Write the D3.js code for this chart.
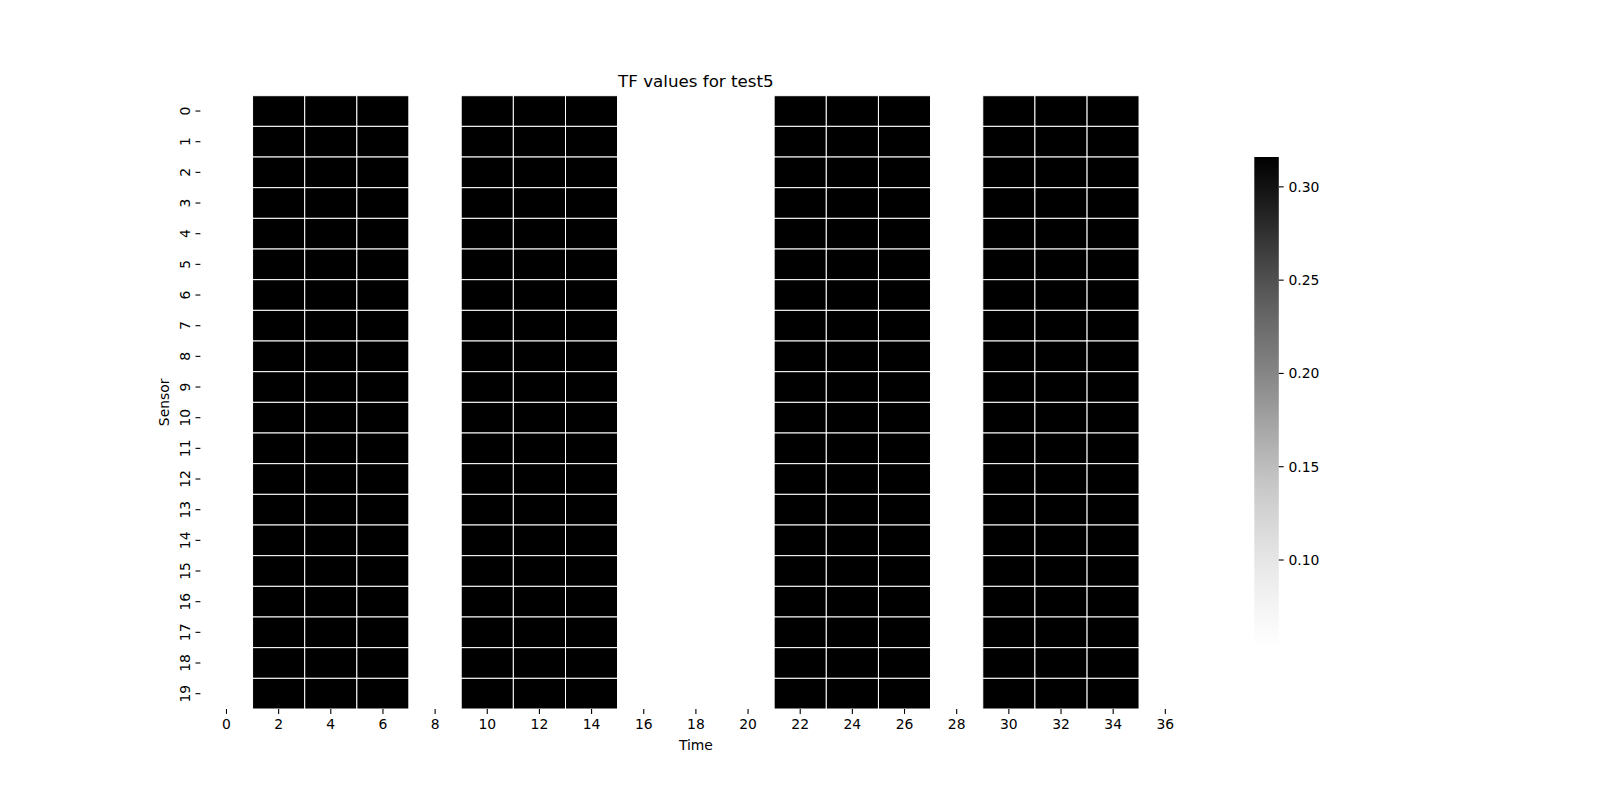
<!DOCTYPE html>
<html><head><meta charset="utf-8">
<script src="https://cdn.jsdelivr.net/npm/d3@7"></script>
<style>body{margin:0;background:#fff;} text{font-family:"DejaVu Sans",sans-serif;fill:#000;}</style>
</head><body>
<svg id="chart" width="1600" height="797"></svg>
<script>
// ---- data ----
const title = "TF values for test5";
const sensors = d3.range(0, 20);                 // rows 0..19
const times = [0,2,4,6,8,10,12,14,16,18,20,22,24,26,28,30,32,34,36];
// value per time column (same for every sensor)
const H = 0.316, L = 0.053;
const rowValues = [L,H,H,H,L,H,H,H,L,L,L,H,H,H,L,H,H,H,L];
const values = sensors.map(() => rowValues.slice());
const xTicks = [0,2,4,6,8,10,12,14,16,18,20,22,24,26,28,30,32,34,36];
const cbarTicks = [0.10,0.15,0.20,0.25,0.30];

// ---- layout ----
const svg = d3.select("#chart");
const pL = 200.4, pR = 1191.4, pT = 95.7, pB = 709.0;
const x = d3.scaleLinear().domain([-1, 37]).range([pL, pR]);
const y = d3.scaleBand().domain(sensors).range([pT, pB]).padding(0);
const extent = d3.extent(values.flat());
const color = d3.scaleSequential(d3.interpolateGreys).domain(extent);

// cells
const g = svg.append("g");
sensors.forEach((s, i) => {
  g.selectAll(null).data(times.map((t, j) => ({t, v: values[i][j]})))
    .enter().append("rect")
    .attr("x", d => x(d.t - 1))
    .attr("width", d => x(d.t + 1) - x(d.t - 1))
    .attr("y", y(s))
    .attr("height", y.bandwidth())
    .attr("fill", d => color(d.v))
    .attr("stroke", "#fff")
    .attr("stroke-width", 1);
});

const fs = 13.9;
// x axis
const xa = svg.append("g");
xTicks.forEach(t => {
  xa.append("line").attr("x1", x(t)).attr("x2", x(t)).attr("y1", pB).attr("y2", pB + 4.9)
    .attr("stroke", "#000").attr("stroke-width", 1.1);
  xa.append("text").attr("x", x(t)).attr("y", pB + 9.7).attr("dy", "0.76em")
    .attr("text-anchor", "middle").style("font-size", fs + "px").text(t);
});
svg.append("text").attr("x", (pL + pR) / 2).attr("y", 749.5).attr("text-anchor", "middle")
  .style("font-size", fs + "px").text("Time");

// y axis
const ya = svg.append("g");
sensors.forEach(s => {
  const yc = y(s) + y.bandwidth() / 2;
  ya.append("line").attr("x1", pL - 4.9).attr("x2", pL).attr("y1", yc).attr("y2", yc)
    .attr("stroke", "#000").attr("stroke-width", 1.1);
  ya.append("text").attr("transform", `translate(${pL - 9.7 - 5.5},${yc}) rotate(-90)`)
    .attr("text-anchor", "middle").attr("dy", "0.36em").style("font-size", fs + "px").text(s);
});
svg.append("text").attr("transform", `translate(${163.5},${(pT + pB) / 2}) rotate(-90)`)
  .attr("text-anchor", "middle").attr("dy", "0.36em").style("font-size", fs + "px").text("Sensor");

// title
svg.append("text").attr("x", (pL + pR) / 2).attr("y", 87.4).attr("text-anchor", "middle")
  .style("font-size", "16.7px").text(title);

// colorbar
const cbX = 1254.3, cbW = 24.5, cbTop = 157.0, cbBot = 647.7;
const cbScale = d3.scaleLinear().domain(extent).range([cbBot, cbTop]);
const defs = svg.append("defs");
const grad = defs.append("linearGradient").attr("id", "cbg").attr("x1", 0).attr("y1", 1).attr("x2", 0).attr("y2", 0);
d3.range(0, 1.0001, 0.05).forEach(p => {
  grad.append("stop").attr("offset", p).attr("stop-color", d3.interpolateGreys(p));
});
svg.append("rect").attr("x", cbX).attr("y", cbTop).attr("width", cbW).attr("height", cbBot - cbTop)
  .attr("fill", "url(#cbg)");
cbarTicks.forEach(t => {
  const ty = cbScale(t);
  svg.append("line").attr("x1", cbX + cbW).attr("x2", cbX + cbW + 4.9).attr("y1", ty).attr("y2", ty)
    .attr("stroke", "#000").attr("stroke-width", 1.1);
  svg.append("text").attr("x", cbX + cbW + 9.7).attr("y", ty).attr("dy", "0.36em")
    .style("font-size", fs + "px").text(t.toFixed(2));
});
</script>
</body></html>
